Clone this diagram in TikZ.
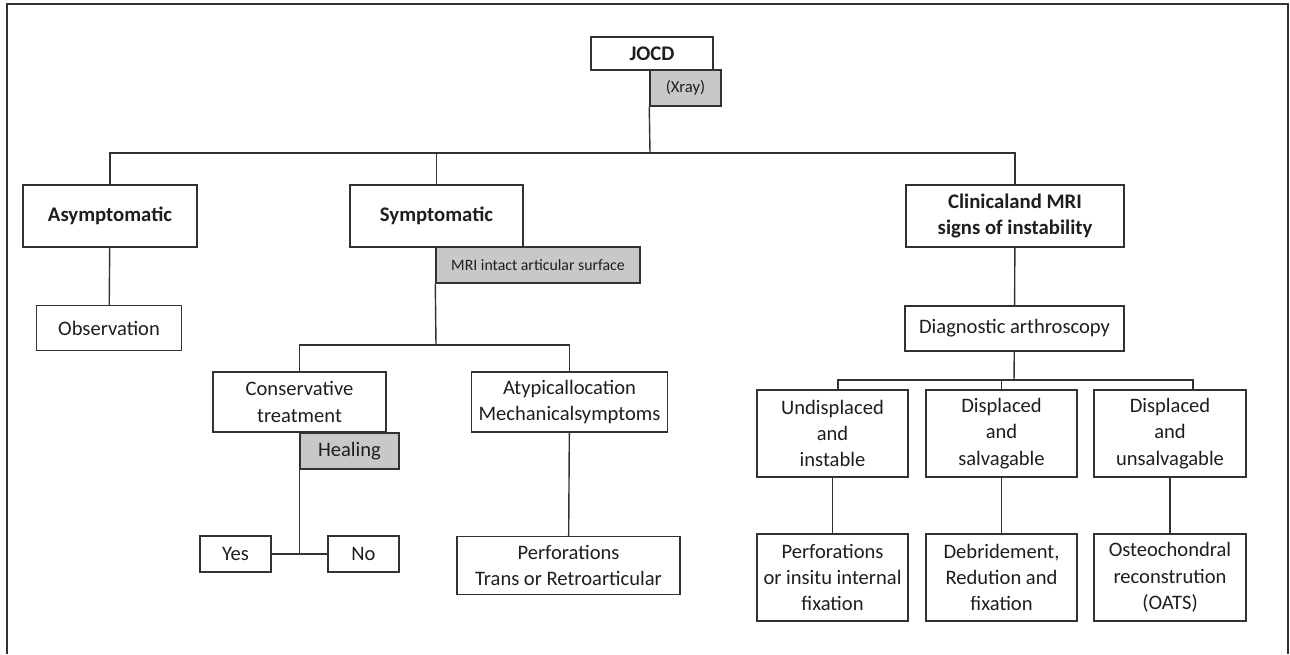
\documentclass[tikz,border=0pt]{standalone}
\usepackage{fontspec}
\setmainfont{Carlito}
\definecolor{LineGray}{RGB}{50, 50, 50}
\definecolor{BoxGray}{RGB}{200, 200, 200}
\definecolor{TextDark}{RGB}{30, 30, 30}
\usetikzlibrary{positioning, calc}

\begin{document}
\begin{tikzpicture}[x=0.02cm, y=-0.02cm,
		box/.style={draw=LineGray, line width=0.85pt, fill=white, inner sep=0pt, align=center, text=TextDark, font=\fontsize{11.7}{15}\selectfont},
		boldbox/.style={box, font=\fontsize{11.8}{15}\selectfont\bfseries},
		greybox/.style={box, fill=BoxGray},
		link/.style={draw=LineGray, line width=0.8pt},
		frame/.style={draw=LineGray, line width=1.3pt}]
	\useasboundingbox (0,0) rectangle (1290,654);
	\draw[frame] (7,654) -- (7,4) -- (1288,4) -- (1288,654);
	% root
	\node[boldbox, minimum width=2.44cm, minimum height=0.66cm] (jocd) at (652,53.5) {JOCD};
	\node[greybox, minimum width=1.42cm, minimum height=0.72cm, font=\fontsize{9.5}{11}\selectfont] (xray) at (685.5,88) {(Xray)};
	% first level
	\node[boldbox, minimum width=3.48cm, minimum height=1.24cm] (asym) at (110,216) {Asymptomatic};
	\node[boldbox, minimum width=3.46cm, minimum height=1.24cm] (symp) at (436.5,216) {Symptomatic};
	\node[boldbox, minimum width=4.36cm, minimum height=1.24cm] (clin) at (1015,216) {Clinicaland MRI\\signs of instability};
	\node[greybox, minimum width=4.08cm, minimum height=0.72cm, font=\fontsize{9}{11}\selectfont] (mri) at (538,265) {MRI intact articular surface};
	\node[box, minimum width=2.9cm, minimum height=0.9cm] (obs) at (109,328) {Observation};
	\node[box, minimum width=4.38cm, minimum height=0.9cm] (diag) at (1014.5,328.5) {Diagnostic arthroscopy};
	% symptomatic branch
	\node[box, minimum width=3.46cm, minimum height=1.2cm] (cons) at (299.5,402) {Conservative\\treatment};
	\node[greybox, minimum width=1.98cm, minimum height=0.72cm] (heal) at (349.5,451) {Healing};
	\node[box, minimum width=1.42cm, minimum height=0.72cm] (yes) at (235.5,554) {Yes};
	\node[box, minimum width=1.42cm, minimum height=0.72cm] (no) at (363.5,554) {No};
	\node[box, minimum width=3.92cm, minimum height=1.2cm] (atyp) at (569.5,402) {Atypicallocation\\Mechanicalsymptoms};
	\node[box, minimum width=4.46cm, minimum height=1.16cm] (perf) at (568.5,565.5) {Perforations\\Trans or Retroarticular};
	% instability branch
	\node[box, minimum width=3.02cm, minimum height=1.74cm] (undis) at (832.5,433.5) {Undisplaced\\and\\instable};
	\node[box, minimum width=3.02cm, minimum height=1.74cm] (salv) at (1001.5,433.5) {Displaced\\and\\salvagable};
	\node[box, minimum width=3.04cm, minimum height=1.74cm] (unsal) at (1170,433.5) {Displaced\\and\\unsalvagable};
	\node[box, minimum width=3.02cm, minimum height=1.74cm] (fix) at (832.5,577.5) {Perforations\\or insitu internal\\fixation};
	\node[box, minimum width=3.02cm, minimum height=1.74cm] (debr) at (1001.5,577.5) {Debridement,\\Redution and\\fixation};
	\node[box, minimum width=3.04cm, minimum height=1.74cm] (oats) at (1170,577.5) {Osteochondral\\reconstrution\\(OATS)};
	% connectors
	\coordinate (bus) at (650,153);
	\coordinate (sbus) at (436,345);
	\coordinate (dbus) at (1014,380);
	\coordinate (dl) at (838,380);
	\coordinate (dr) at (1193,380);
	\draw[link] (xray.south west) -- (bus);
	\draw[link] (asym.north) |- (bus) -| (clin.north);
	\draw[link] (symp.north) -- (symp.north |- bus);
	\draw[link] (asym) -- (obs);
	\draw[link] (mri.south west) -- (sbus);
	\draw[link] (cons.north) |- (sbus) -| (atyp.north);
	\draw[link] (heal.south west) -- (heal.south west |- yes.east);
	\draw[link] (yes) -- (no);
	\draw[link] (atyp) -- (perf);
	\draw[link] (clin) -- (diag);
	\draw[link] (diag) -- (dbus);
	\draw[link] (dl |- undis.north) -- (dl) -- (dr) -- (dr |- unsal.north);
	\draw[link] (salv.north) -- (salv.north |- dbus);
	\draw[link] (undis) -- (fix);
	\draw[link] (salv) -- (debr);
	\draw[link] (unsal) -- (oats);
\end{tikzpicture}
\end{document}
